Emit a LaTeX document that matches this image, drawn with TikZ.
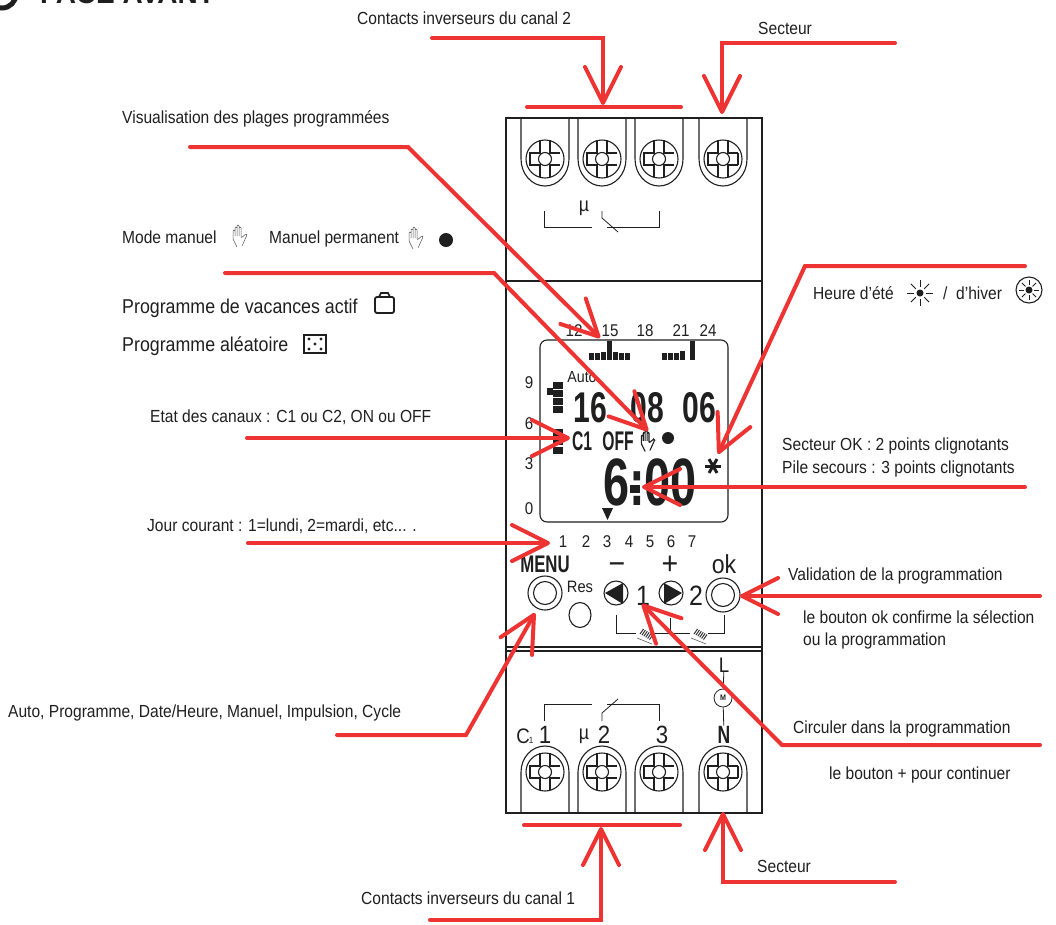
\documentclass[tikz,border=0pt]{standalone}
\usepackage{fontspec}
\setmainfont[FakeStretch=.89]{Liberation Sans}
\newfontfamily\wideFont{Liberation Sans}
\newfontfamily\tightFont[FakeStretch=.7]{Liberation Sans}
\newfontfamily\slimFont[FakeStretch=.58]{Liberation Sans}
\usetikzlibrary{arrows.meta, positioning}
\colorlet{inkCol}{black!88}
\definecolor{redCol}{HTML}{EE3333}
\tikzstyle{redLine}=[color=redCol, line width=4pt, line cap=round, line join=miter]
\tikzstyle{redArrow}=[redLine, -{Straight Barb[length=36pt, width=36pt, line width=4pt, round]}]
\tikzstyle{devLine}=[color=inkCol, line width=1.1pt]
\tikzstyle{thinLine}=[color=inkCol, line width=0.8pt]
\tikzstyle{handStroke}=[line width=0.5pt, color=black!65]
\tikzstyle{capt}=[inner sep=0pt, anchor=base west, yshift=-1pt, text=inkCol, font=\fontsize{17.5}{17.5}\selectfont]
\tikzstyle{captBig}=[capt, font=\fontsize{20}{20}\selectfont]
\tikzstyle{glyphMark}=[inner sep=0pt, anchor=base, text=inkCol, font=\fontsize{17}{17}\selectfont]
\tikzstyle{markBig}=[glyphMark, font=\fontsize{25}{25}\selectfont]
\tikzstyle{lcdText}=[glyphMark, font=\tightFont\bfseries\fontsize{43}{43}\selectfont]
\tikzstyle{lcdSmall}=[glyphMark, font=\slimFont\bfseries\fontsize{27}{27}\selectfont]
\tikzset{
  screwHead/.pic={
    \draw[devLine] (0,0) circle (19pt);
    \draw[devLine] (-5,-19) -- (-5,-6) -- (-15,-6) -- (-15,6) -- (-5,6) -- (-5,18);
    \draw[devLine] (5,-19) -- (5,-6) -- (15,-6);
    \draw[devLine] (5,18) -- (5,6) -- (15,6);
    \draw[devLine, fill=white] (0,0) circle (6.5pt);
  },
  handIcon/.pic={
    \draw[rounded corners=1pt, handStroke]
      (-3,11) -- (-7,3) -- (-7,-6) -- (-5,-6) -- (-5,1) -- (-5,-9) -- (-3,-9) -- (-3,1)
      -- (-3,-11) -- (-1,-11) -- (-1,1) -- (-1,-9) -- (1,-9) -- (1,2) -- (6,-2) -- (7,-1) -- (2,10);
  },
  springIcon/.pic={
    \fill[white] (-9,-5) rectangle (9,5);
    \foreach \d in {0,...,5}
    \draw[line width=1pt, color=black!80] (-5+\d*1.9,1+\d*1.1) -- ++(3.5,-5);
    \draw[line width=0.6pt, color=black!65] (-8,5) -- (7,11);
  }
}
\begin{document}
\begin{tikzpicture}[x=1pt, y=-1pt]
  \useasboundingbox (0,0) rectangle (1056,924);
  \clip (0,0) rectangle (1056,924);

  % title, cut by the page
  \draw[color=inkCol, line width=5pt] (2,-6) circle (14pt);
  \node[inner sep=0pt, anchor=base west, text=inkCol, font=\wideFont\bfseries\fontsize{28}{28}\selectfont] (title) at (40,3) {FACE AVANT};

  % case
  \draw[devLine, line width=1.3pt] (506,118) rectangle (762,813);
  \draw[devLine] (506,281) -- (762,281);
  \draw[devLine] (506,647) -- (762,647);
  \draw[devLine] (506,651) -- (762,651);

  % terminals
  \foreach \x in {545,602,659,723} {
    \draw[devLine] (\x-24,118) -- (\x-24,159) arc[start angle=180, end angle=360, x radius=24pt, y radius=27pt] -- (\x+24,118);
    \draw[devLine] (\x-24,813) -- (\x-24,772) arc[start angle=180, end angle=0, x radius=24pt, y radius=26pt] -- (\x+24,813);
    \pic at (\x,159) {screwHead};
    \pic at (\x,772) {screwHead};
  }
  \draw[devLine] (738,153) -- (738,165);
  \draw[devLine] (738,766) -- (738,778);

  % contact symbols
  \node[glyphMark, font=\fontsize{20}{20}\selectfont] (muTop) at (584,211) {µ};
  \draw[thinLine] (544,211) -- (544,227) -- (592,227);
  \draw[thinLine] (602,211) -- (602,218) -- (618,232);
  \draw[thinLine] (607,227) -- (659,227) -- (659,211);
  \draw[thinLine] (544,721) -- (544,704) -- (592,704);
  \draw[thinLine] (602,721) -- (602,713) -- (618,699);
  \draw[thinLine] (607,704) -- (659,704) -- (659,721);
  \node[glyphMark, font=\fontsize{20}{20}\selectfont] (muBot) at (584,739) {µ};
  \node[glyphMark, font=\fontsize{21}{21}\selectfont] (cOne) at (523,743) {C};
  \node[glyphMark, font=\fontsize{9}{9}\selectfont] (cSub) at (531,743) {1};
  \node[markBig] (bornA) at (545,743) {1};
  \node[markBig] (bornB) at (604,743) {2};
  \node[markBig] (bornC) at (662,743) {3};
  \node[markBig, font=\tightFont\bfseries\fontsize{25}{25}\selectfont] (bornN) at (724,743) {N};
  \node[markBig, font=\fontsize{21}{21}\selectfont] (bornL) at (724,672) {L};
  \node[draw=inkCol, circle, line width=0.8pt, minimum size=18pt, inner sep=0pt, text=inkCol, font=\bfseries\fontsize{8}{8}\selectfont] (motor) at (723,698) {M};
  \draw[thinLine] (bornL) -- (motor);
  \draw[thinLine] (motor) -- (bornN);

  % display
  \draw[devLine, rounded corners=7pt] (540,340) rectangle (728,522);
  \foreach \x/\t in {574/12,610/15,645/18,681/21,708/24}
  \node[glyphMark] at (\x,336) {\t};
  \foreach \y/\t in {388/9,429/6,469/3,514/0}
  \node[glyphMark] at (529,\y) {\t};
  \foreach \x/\h in {591/7,597/7,603/8,609/19,615/8,621/7,627/7}
  \fill[inkCol] (\x-2.5,360) rectangle (\x+2.5,360-\h);
  \foreach \x/\h in {664/7,670/7,676/7,682/9,692/19}
  \fill[inkCol] (\x-2.5,360) rectangle (\x+2.5,360-\h);
  \foreach \y in {382,390,398,406}
  \fill[inkCol] (553,\y) rectangle (563,\y+6.5);
  \fill[inkCol] (547,388) rectangle (553,395);
  \foreach \y in {429,438,447}
  \fill[inkCol] (553,\y) rectangle (563,\y+7);
  \node[glyphMark, font=\fontsize{16}{16}\selectfont] (autoMark) at (582,382) {Auto};
  \node[lcdText] (dateDay) at (590,422) {16};
  \node[lcdText] (dateMonth) at (647,422) {08};
  \node[lcdText] (dateYear) at (699,422) {06};
  \node[lcdSmall] (chanMark) at (582,450) {C1};
  \node[lcdSmall] (offMark) at (618,450) {OFF};
  \pic[scale=0.95, handStroke/.style={line width=1.1pt, color=inkCol}] at (648,441) {handIcon};
  \fill[inkCol] (668,438) circle (6pt);
  \foreach \a in {0,60,120}
  \draw[inkCol, line width=3pt] (713,466) ++(\a:8pt) -- ++(\a+180:16pt);
  \node[glyphMark, font=\tightFont\bfseries\fontsize{67}{67}\selectfont] (clock) at (650,505) {6:00};
  \fill[inkCol] (630,485) rectangle (640,493);
  \fill[inkCol] (602,508) -- (613,508) -- (607.5,520) -- cycle;

  % keypad
  \foreach \x/\t in {563/1,586/2,607/3,629/4,650/5,671/6,692/7}
  \node[glyphMark] at (\x,547) {\t};
  \node[glyphMark, font=\tightFont\bfseries\fontsize{24}{24}\selectfont] (menuMark) at (545,572) {MENU};
  \node[glyphMark, font=\fontsize{32}{32}\selectfont] (minusMark) at (617,574) {−};
  \node[glyphMark, font=\fontsize{32}{32}\selectfont] (plusMark) at (670,574) {+};
  \node[glyphMark, font=\fontsize{26}{26}\selectfont] (okMark) at (724,573) {ok};
  \node[glyphMark, font=\fontsize{16.5}{16.5}\selectfont] (resMark) at (580,592) {Res};
  \node[markBig, font=\fontsize{28}{28}\selectfont] (oneMark) at (643,605) {1};
  \node[markBig, font=\fontsize{28}{28}\selectfont] (twoMark) at (696,605) {2};
  \foreach \x/\y in {545/593,723/595} {
    \draw[devLine] (\x,\y) circle (17pt);
    \draw[devLine] (\x,\y) circle (11.5pt);
  }
  \draw[devLine] (580,615) ellipse (11pt and 12.5pt);
  \draw[devLine] (616,593) circle (12pt);
  \draw[devLine] (671,593) circle (12pt);
  \fill[inkCol] (605,593) -- (623,583) -- (623,604) -- cycle;
  \fill[inkCol] (682,593) -- (664,583) -- (664,604) -- cycle;
  \draw[thinLine] (616,615) -- (616,633) -- (724,633) -- (724,615);
  \draw[thinLine] (670,618) -- (670,633);
  \pic at (645,633) {springIcon};
  \pic at (699,633) {springIcon};

  % captions
  \node[capt] (capCanalB) at (357,23) {Contacts inverseurs du canal 2};
  \node[capt] (capSecteurT) at (758,33) {Secteur};
  \node[capt] (capVisu) at (122,122) {Visualisation des plages programmées};
  \node[capt] (capManuel) at (122,242) {Mode manuel};
  \pic at (240,236) {handIcon};
  \node[capt] (capPerm) at (269,242) {Manuel permanent};
  \pic at (416,238) {handIcon};
  \fill[inkCol] (446,240) circle (7pt);
  \node[captBig] (capVac) at (122,312) {Programme de vacances actif};
  \draw[inkCol, line width=1.8pt, rounded corners=2pt] (375,297) rectangle (394,313);
  \draw[inkCol, line width=1.6pt] (379,297) -- (381,293) -- (388,293) -- (390,297);
  \node[captBig] (capAlea) at (122,350) {Programme aléatoire};
  \draw[inkCol, line width=1.6pt] (304,335) rectangle (326,353);
  \foreach \x/\y in {309/339,321/339,315/344,309/349,321/349}
  \fill[inkCol] (\x,\y) circle (1.6pt);
  \node[capt] (capEtat) at (150,421) {Etat des canaux : C1 ou C2, ON ou OFF};
  \node[capt] (capJour) at (147,530) {Jour courant : 1=lundi, 2=mardi, etc... .};
  \node[capt] (capAuto) at (8,716) {Auto, Programme, Date/Heure, Manuel, Impulsion, Cycle};
  \node[capt] (capHeure) at (813,298) {Heure d'été};
  \foreach \a in {0,45,...,315}
  \draw[thinLine] (920,293) ++(\a:6pt) -- ++(\a:7pt);
  \fill[inkCol] (920,293) circle (3.5pt);
  \node[capt] (capSlash) at (943,298) {/};
  \node[capt] (capHiver) at (956,298) {d'hiver};
  \draw[devLine] (1029,290) circle (13pt);
  \foreach \a in {0,45,...,315}
  \draw[thinLine] (1029,290) ++(\a:5pt) -- ++(\a:5pt);
  \fill[inkCol] (1029,290) circle (3.5pt);
  \node[capt] (capOk) at (782,449) {Secteur OK : 2 points clignotants};
  \node[capt] (capPile) at (782,472) {Pile secours : 3 points clignotants};
  \node[capt] (capValid) at (788,579) {Validation de la programmation};
  \node[capt] (capBtnA) at (803,622) {le bouton ok confirme la sélection};
  \node[capt] (capBtnB) at (803,644) {ou la programmation};
  \node[capt] (capCirc) at (793,732) {Circuler dans la programmation};
  \node[capt] (capPlus) at (829,778) {le bouton + pour continuer};
  \node[capt] (capSecteurB) at (757,871) {Secteur};
  \node[capt] (capCanalA) at (361,903) {Contacts inverseurs du canal 1};

  % pointers
  \coordinate (canalBa) at (432,38);
  \coordinate (canalBb) at (603,38);
  \coordinate (canalBc) at (603,105);
  \coordinate (barBa) at (527,107);
  \coordinate (barBb) at (681,107);
  \coordinate (sectTa) at (895,43);
  \coordinate (sectTb) at (722,43);
  \coordinate (sectTc) at (722,114);
  \coordinate (visuA) at (190,147);
  \coordinate (visuB) at (408,147);
  \coordinate (visuC) at (600,338);
  \coordinate (manA) at (225,273);
  \coordinate (manB) at (494,273);
  \coordinate (manC) at (648,431);
  \coordinate (etatA) at (247,438);
  \coordinate (etatB) at (570,438);
  \coordinate (jourA) at (248,543);
  \coordinate (jourB) at (550,543);
  \coordinate (heureA) at (1025,266);
  \coordinate (heureB) at (805,266);
  \coordinate (heureC) at (718,454);
  \coordinate (okA) at (1025,487);
  \coordinate (okB) at (642,487);
  \coordinate (validA) at (1040,596);
  \coordinate (validB) at (740,596);
  \coordinate (circA) at (1040,745);
  \coordinate (circB) at (782,745);
  \coordinate (circC) at (642,604);
  \coordinate (autoA) at (337,735);
  \coordinate (autoB) at (466,735);
  \coordinate (autoC) at (535,613);
  \coordinate (canalAa) at (430,920);
  \coordinate (canalAb) at (601,920);
  \coordinate (canalAc) at (601,827);
  \coordinate (barAa) at (524,825);
  \coordinate (barAb) at (680,825);
  \coordinate (sectBa) at (895,882);
  \coordinate (sectBb) at (723,882);
  \coordinate (sectBc) at (723,812);
  \draw[redLine] (barBa) -- (barBb);
  \draw[redLine] (barAa) -- (barAb);
  \draw[redArrow] (canalBa) -- (canalBb) -- (canalBc);
  \draw[redArrow] (sectTa) -- (sectTb) -- (sectTc);
  \draw[redArrow] (visuA) -- (visuB) -- (visuC);
  \draw[redArrow] (manA) -- (manB) -- (manC);
  \draw[redArrow] (etatA) -- (etatB);
  \draw[redArrow] (jourA) -- (jourB);
  \draw[redArrow] (heureA) -- (heureB) -- (heureC);
  \draw[redArrow] (okA) -- (okB);
  \draw[redArrow] (validA) -- (validB);
  \draw[redArrow] (circA) -- (circB) -- (circC);
  \draw[redArrow] (autoA) -- (autoB) -- (autoC);
  \draw[redArrow] (canalAa) -- (canalAb) -- (canalAc);
  \draw[redArrow] (sectBa) -- (sectBb) -- (sectBc);
\end{tikzpicture}
\end{document}
